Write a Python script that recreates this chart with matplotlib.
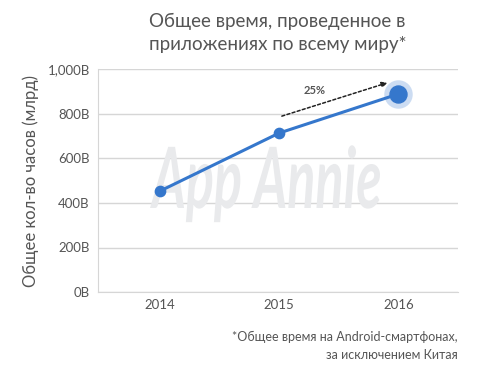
import matplotlib
matplotlib.use("Agg")
import matplotlib.pyplot as plt
from matplotlib.textpath import TextPath
from matplotlib.patches import PathPatch
from matplotlib.font_manager import FontProperties
from matplotlib.transforms import Affine2D

years = ["2014", "2015", "2016"]
hours = [453, 713, 888]  # billions of hours
y_ticks = [0, 200, 400, 600, 800, 1000]
y_labels = ["0B", "200B", "400B", "600B", "800B", "1,000B"]
growth_label = "25%"

title = "Общее время, проведенное в\nприложениях по всему миру*"
y_title = "Общее кол-во часов (млрд)"
footnote = "*Общее время на Android-смартфонах,\nза исключением Китая"


def main():
    plt.rcParams['font.family'] = ['Lato', 'DejaVu Sans']
    text_c = "#555555"
    blue = "#3577cc"

    fig = plt.figure(figsize=(5, 3.75), dpi=100)
    ax = fig.add_axes([0.196, 0.221, 0.72, 0.595])

    x = list(range(len(years)))
    ax.plot(x, hours, color=blue, lw=2.2, zorder=3)
    ax.scatter(x[:-1], hours[:-1], s=55, color=blue, zorder=4)
    ax.scatter(x[-1:], hours[-1:], s=420, color=blue, alpha=0.25, lw=0, zorder=4)
    ax.scatter(x[-1:], hours[-1:], s=150, color=blue, zorder=5)

    # watermark, squeezed horizontally (pixel coords, origin bottom-left)
    tp = TextPath((0, 0), "App Annie", size=10,
                  prop=FontProperties(family="Lato", style="italic", weight="bold"))
    bb = tp.get_extents()
    sx = 230 / bb.width
    sy = 60 / (bb.height * 0.78)
    tr = Affine2D().translate(-bb.x0, 0).scale(sx, sy).translate(150, 375 - 208)
    wm = PathPatch(tp, transform=tr, color="#e9eaec", lw=0, zorder=1)
    wm.set_clip_on(False)
    ax.add_patch(wm)

    ax.annotate("", xy=(1.93, 942), xytext=(1.0, 785),
                arrowprops=dict(arrowstyle="-|>", ls=(0, (2, 1.5)), lw=1.1,
                                color="#222222", mutation_scale=8))
    ax.text(1.3, 905, growth_label, fontsize=8, fontweight="bold", color=text_c,
            ha="center", va="center")

    ax.set_xlim(-0.52, 2.5)
    ax.set_ylim(0, 1000)
    ax.set_xticks(x)
    ax.set_xticklabels(years)
    ax.set_yticks(y_ticks)
    ax.set_yticklabels(y_labels)
    ax.tick_params(length=0, colors=text_c, labelsize=9.5, pad=6)
    ax.tick_params(axis="x", pad=5)
    ax.yaxis.grid(True, color="#d6d6d6", lw=1)
    ax.set_axisbelow(True)
    for s in ["top", "right"]:
        ax.spines[s].set_visible(False)
    ax.spines["left"].set_color("#d6d6d6")
    ax.spines["bottom"].set_color("#d6d6d6")
    ax.set_ylabel(y_title, fontsize=12, color=text_c, labelpad=6)

    fig.text(0.555, 0.912, title, fontsize=13.5, color=text_c, ha="center",
             va="center", linespacing=1.4)
    fig.text(0.916, 0.078, footnote, fontsize=9, color=text_c, ha="right",
             va="center", linespacing=1.55)

    fig.savefig("out.png", dpi=100)


if __name__ == "__main__":
    main()
